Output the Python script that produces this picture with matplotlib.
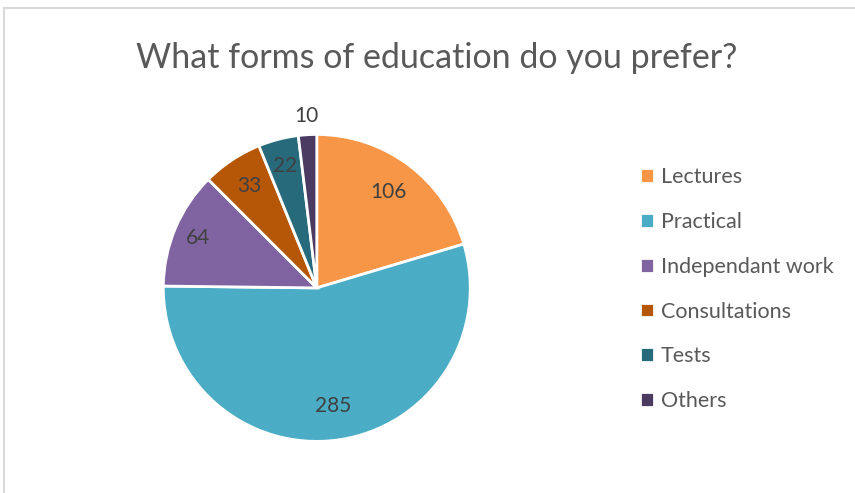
import numpy as np
import matplotlib.pyplot as plt
from matplotlib.lines import Line2D

# survey answers
labels = ['Lectures', 'Practical', 'Independant work', 'Consultations', 'Tests', 'Others']
counts = [106, 285, 64, 33, 22, 10]
colors = ['#F79646', '#4BACC6', '#8064A2', '#B65708', '#276A7C', '#4B3A62']
# how far out each value label sits (fraction of radius)
label_dist = [0.78, 0.78, 0.84, 0.80, 0.82, 1.12]

plt.rcParams['font.family'] = ['Lato', 'DejaVu Sans']

fig = plt.figure(figsize=(8.55, 4.93), dpi=100)
ax = fig.add_axes([0.191, 0.1045, 0.359, 0.623])

wedges, _ = ax.pie(counts, colors=colors, startangle=90, counterclock=False,
                   radius=1, wedgeprops=dict(edgecolor='white', linewidth=2))
ax.set_xlim(-1, 1)
ax.set_ylim(-1, 1)
ax.set_aspect('equal')

for w, n, d in zip(wedges, counts, label_dist):
    mid = np.deg2rad((w.theta1 + w.theta2) / 2)
    ax.text(d * np.cos(mid), d * np.sin(mid), str(n), ha='center', va='center',
            fontsize=15, color='#404040')

fig.text(0.511, 0.882, 'What forms of education do you prefer?', ha='center', va='center',
         fontsize=24.5, color='#595959')

fig.legend(wedges, labels, loc='upper left', bbox_to_anchor=(0.738, 0.678), frameon=False,
           fontsize=15.5, labelcolor='#595959', handlelength=0.68, handleheight=0.68,
           handletextpad=0.3, labelspacing=1.15, borderaxespad=0)

# chart frame
fig.add_artist(Line2D([0.005, 0.005], [0, 0.984], transform=fig.transFigure, color='#D9D9D9', lw=1.5))
fig.add_artist(Line2D([0.005, 1], [0.984, 0.984], transform=fig.transFigure, color='#D9D9D9', lw=1.5))

fig.savefig('out.png', dpi=100)
